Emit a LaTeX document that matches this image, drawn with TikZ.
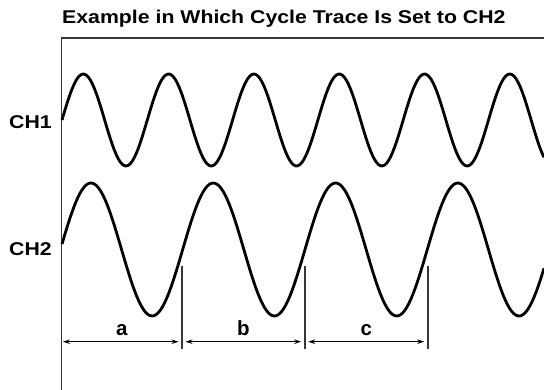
\documentclass[tikz,border=0pt]{standalone}
\usepackage{fontspec}
\setmainfont{Liberation Sans}
\newfontfamily\widefont{Liberation Sans}[FakeStretch=1.15]
\usetikzlibrary{arrows.meta,positioning,calc}
\definecolor{Frame}{RGB}{55,55,55}
\tikzset{
  ttl/.style={font=\widefont\bfseries\fontsize{18.5}{20}\selectfont,inner sep=0pt,anchor=base west},
  chlbl/.style={ttl},
  seglbl/.style={font=\bfseries\fontsize{20.5}{22}\selectfont,inner sep=0pt,anchor=base},
  frame/.style={Frame,line width=1.5pt},
  wave/.style={black,line width=2.8pt,line join=round},
  marker/.style={Frame,line width=1.7pt},
  dim/.style={{Stealth[length=7pt,width=4.5pt]}-{Stealth[length=7pt,width=4.5pt]},
              black,line width=1.1pt,shorten <=3.5pt,shorten >=3.5pt},
}

\begin{document}
\begin{tikzpicture}[x=1pt,y=-1pt]
  \useasboundingbox (0,0) rectangle (544,390);
  \coordinate (fb) at (61.5,390);
  \coordinate (ft) at (61.5,38);
  \coordinate (fr) at (544,38);
  \draw[frame] (fb) -- (ft) -- (fr);
  \node[ttl] (title) at (62,24) {Example in Which Cycle Trace Is Set to CH2};
  \node[chlbl] (ch1) at (9,129) {CH1};
  \node[chlbl] (ch2) at (9,256) {CH2};
  \draw[wave] plot[domain=62:544,samples=240] (\x,{120-46*sin((\x-62)/85.3*360)});
  \draw[wave] plot[domain=62:544,samples=240] (\x,{249.5-66.5*sin((\x-60.4)/122.3*360)});
  \foreach \i/\xx in {1/182,2/304.7,3/427.7} {
    \coordinate (m\i t) at (\xx,266);
    \coordinate (m\i) at (\xx,341.7);
    \coordinate (m\i b) at (\xx,349);
    \draw[marker] (m\i t) -- (m\i b);
  }
  \coordinate (m0) at (61.5,341.7);
  \draw[dim,shorten <=1.5pt] (m0) -- (m1) node[seglbl,midway,yshift=6.2pt] (la) {a};
  \draw[dim] (m1) -- (m2) node[seglbl,midway,yshift=6.2pt] (lb) {b};
  \draw[dim] (m2) -- (m3) node[seglbl,midway,yshift=6.2pt] (lc) {c};
\end{tikzpicture}
\end{document}
